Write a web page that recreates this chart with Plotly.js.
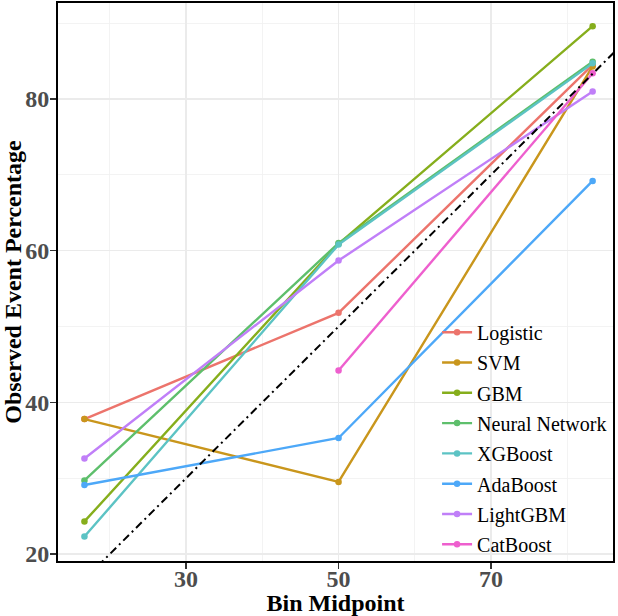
<!DOCTYPE html>
<html>
<head>
<meta charset="utf-8">
<script src="https://cdn.plot.ly/plotly-3.0.1.min.js"></script>
<style>
  html, body { margin: 0; padding: 0; background: #ffffff; }
  #chart { width: 618px; height: 616px; }
</style>
</head>
<body>
<div id="chart"></div>
<script>
// Bin midpoints (predicted probability bins, in percent)
const binMidpoints = [16.67, 50, 83.33];

// Observed event percentage per model in each bin
const logistic      = [37.8, 51.8, 84.5];
const svm           = [37.8, 29.5, 84.3];
const gbm           = [24.3, 60.9, 89.6];
const neuralNetwork = [29.7, 61.0, 84.9];
const xgboost       = [22.3, 60.8, 84.7];
const adaboost      = [29.1, 35.3, 69.2];
const lightgbm      = [32.6, 58.7, 81.0];
const catboost      = [null, 44.2, 83.4];

const modelNames = ["Logistic", "SVM", "GBM", "Neural Network", "XGBoost", "AdaBoost", "LightGBM", "CatBoost"];
const modelValues = [logistic, svm, gbm, neuralNetwork, xgboost, adaboost, lightgbm, catboost];
const modelColors = ["#EC746C", "#C9961C", "#86AE1C", "#5EBF6C", "#5CC3C4", "#4DA8F8", "#C07FF8", "#EE5FCE"];

// Perfect-calibration reference (observed = predicted)
const referenceLine = [0, 100];

const xTicks = [30, 50, 70];
const yTicks = [20, 40, 60, 80];

// One legend group per model so tracegroupgap spaces the entries evenly
const traces = modelNames.map((name, i) => ({
  type: "scatter",
  mode: "lines+markers",
  name: name,
  legendgroup: name,
  x: binMidpoints,
  y: modelValues[i],
  connectgaps: false,
  line: { color: modelColors[i], width: 2.4 },
  marker: { color: modelColors[i], size: 6.5 }
}));

traces.push({
  type: "scatter",
  mode: "lines",
  x: referenceLine,
  y: referenceLine,
  showlegend: false,
  hoverinfo: "skip",
  line: { color: "#000000", width: 2, dash: "8px,4px,2px,4px" }
});

const serif = '"Liberation Serif", "Times New Roman", serif';
const tickFont = { family: serif, size: 24, color: "#4D4D4D", weight: "bold" };
const titleFont = { family: serif, size: 24, color: "#000000", weight: "bold" };

const layout = {
  width: 618,
  height: 616,
  margin: { l: 58, r: 5, t: 3, b: 55 },
  paper_bgcolor: "#ffffff",
  plot_bgcolor: "#ffffff",
  showlegend: true,
  legend: {
    x: 0.683, xanchor: "left",
    y: 0.445, yanchor: "top",
    bgcolor: "rgba(0,0,0,0)",
    borderwidth: 0,
    font: { family: serif, size: 20, color: "#000000" },
    itemwidth: 30,
    tracegroupgap: 1.3
  },
  xaxis: {
    range: [13.2, 86.0],
    tickmode: "array",
    tickvals: xTicks,
    ticktext: xTicks.map(String),
    tickfont: tickFont,
    ticks: "outside",
    ticklen: 6,
    tickwidth: 1.2,
    tickcolor: "#333333",
    ticklabelstandoff: -11,
    showgrid: true,
    gridcolor: "#EBEBEB",
    gridwidth: 1.2,
    minor: { tickvals: [20, 40, 60, 80], showgrid: true, gridcolor: "#F0F0F0", gridwidth: 0.8 },
    zeroline: false,
    showline: true,
    mirror: true,
    linecolor: "#000000",
    linewidth: 2,
    title: { text: "Bin Midpoint", font: titleFont, standoff: 2 }
  },
  yaxis: {
    range: [19.08, 92.66],
    tickmode: "array",
    tickvals: yTicks,
    ticktext: yTicks.map(String),
    tickfont: tickFont,
    ticks: "outside",
    ticklen: 6,
    tickwidth: 1.2,
    tickcolor: "#333333",
    ticklabelstandoff: -4,
    showgrid: true,
    gridcolor: "#EBEBEB",
    gridwidth: 1.2,
    minor: { tickvals: [30, 50, 70, 90], showgrid: true, gridcolor: "#F0F0F0", gridwidth: 0.8 },
    zeroline: false,
    showline: true,
    mirror: true,
    linecolor: "#000000",
    linewidth: 2,
    title: { text: "Observed Event Percentage", font: titleFont, standoff: 4 }
  }
};

Plotly.newPlot("chart", traces, layout, { displayModeBar: false, staticPlot: true });
</script>
</body>
</html>
